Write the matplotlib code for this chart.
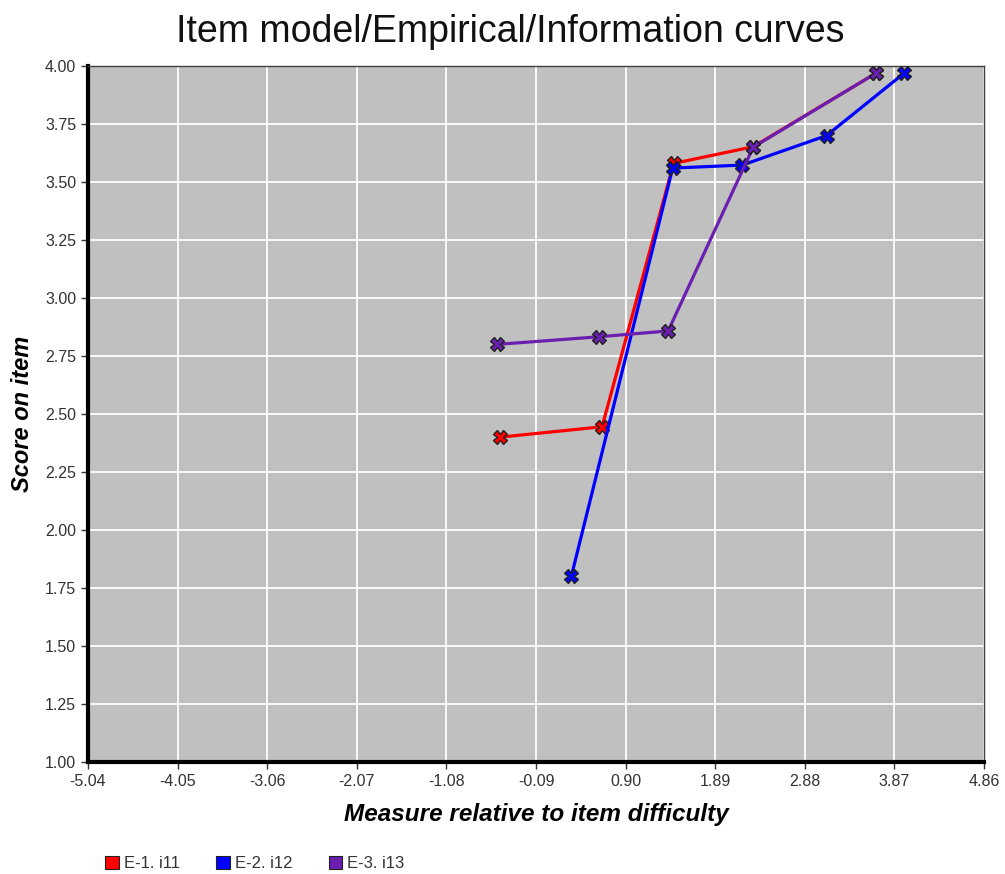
import matplotlib
matplotlib.use("Agg")
import matplotlib.pyplot as plt
import numpy as np

plt.rcParams["font.family"] = ["Liberation Sans", "DejaVu Sans"]

# empirical curves
x_e1 = [-0.49, 0.64, 1.43, 2.31, 3.67]
y_e1 = [2.40, 2.445, 3.58, 3.652, 3.97]

x_e2 = [0.30, 1.42, 2.19, 3.12, 3.98]
y_e2 = [1.80, 3.56, 3.573, 3.70, 3.97]

x_e3 = [-0.52, 0.61, 1.37, 2.31, 3.67]
y_e3 = [2.80, 2.833, 2.858, 3.65, 3.97]

series_names = ["E-1. i11", "E-2. i12", "E-3. i13"]
series_colors = ["#ff0000", "#0000ff", "#6a1fb0"]

x_ticks = [-5.04, -4.05, -3.06, -2.07, -1.08, -0.09, 0.90, 1.89, 2.88, 3.87, 4.86]
y_ticks = [1.00, 1.25, 1.50, 1.75, 2.00, 2.25, 2.50, 2.75, 3.00, 3.25, 3.50, 3.75, 4.00]

fig = plt.figure(figsize=(10.05, 8.74), dpi=100)
ax = fig.add_axes([88 / 1005, 112 / 874, 896 / 1005, 696 / 874])
ax.set_facecolor("#c0c0c0")

for xs, ys, name, col in zip([x_e1, x_e2, x_e3], [y_e1, y_e2, y_e3], series_names, series_colors):
    ax.plot(xs, ys, color=col, lw=2.3, marker="X", markersize=10,
            markerfacecolor=col, markeredgecolor="#202020", markeredgewidth=1.0,
            label=name, zorder=3)

ax.set_xlim(-5.04, 4.86)
ax.set_ylim(1.0, 4.0)
ax.set_xticks(x_ticks)
ax.set_xticklabels(["%.2f" % v for v in x_ticks])
ax.set_yticks(y_ticks)
ax.set_yticklabels(["%.2f" % v for v in y_ticks])
ax.grid(True, color="white", lw=1.3)
ax.set_axisbelow(True)
ax.tick_params(direction="out", length=5, width=1, colors="#333333", labelsize=11.5)

for s in ["left", "bottom"]:
    ax.spines[s].set_linewidth(3)
    ax.spines[s].set_color("black")
for s in ["top", "right"]:
    ax.spines[s].set_linewidth(1)
    ax.spines[s].set_color("#404040")

fig.text(0.508, 0.963, "Item model/Empirical/Information curves",
         ha="center", va="center", fontsize=27, color="#111111")
ax.set_xlabel("Measure relative to item difficulty", fontsize=17.5,
              fontweight="bold", style="italic", labelpad=10)
ax.set_ylabel("Score on item", fontsize=17, fontweight="bold",
              style="italic", labelpad=8)

handles = [plt.Rectangle((0, 0), 1, 1, facecolor=c, edgecolor="#202020", lw=0.8)
           for c in series_colors]
fig.legend(handles, series_names, loc="lower left", bbox_to_anchor=(0.09, -0.014),
           ncol=3, frameon=False, fontsize=12, handlelength=0.8, handleheight=0.8,
           handletextpad=0.3, columnspacing=2.2, labelcolor="#333333")

fig.savefig("out.png", dpi=100)
